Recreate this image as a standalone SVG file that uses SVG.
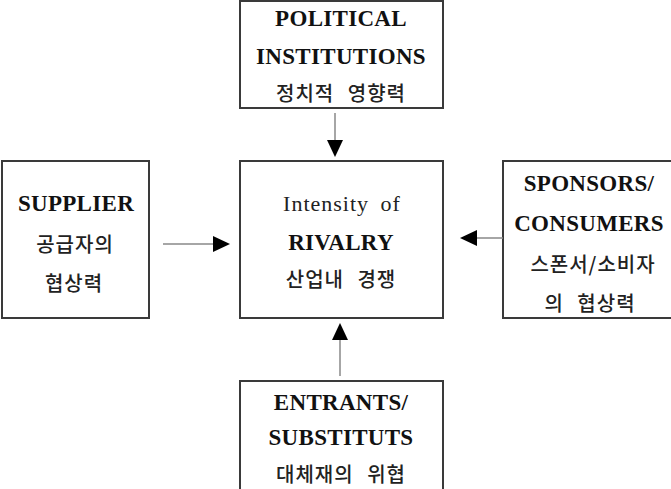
<svg xmlns="http://www.w3.org/2000/svg" width="671" height="489" viewBox="0 0 671 489">
<style>
.box{fill:#fff;stroke:#3a3a3a;stroke-width:2}
.t{font-family:"Liberation Serif","Noto Sans CJK KR",serif;font-size:23px;font-weight:bold;fill:#111;text-anchor:middle;dominant-baseline:central;letter-spacing:0.3px}
.r{font-family:"Liberation Serif",serif;font-size:22px;font-weight:normal;fill:#222;text-anchor:middle;dominant-baseline:central;letter-spacing:1px;word-spacing:5px}
.k{font-family:"Noto Sans CJK KR","Liberation Serif",sans-serif;font-size:20px;font-weight:500;fill:#222;text-anchor:middle;dominant-baseline:central;letter-spacing:1px;word-spacing:8px}
.line{stroke:#888;stroke-width:1.5;fill:none}
.head{fill:#000}
</style>
<rect width="671" height="489" fill="#fff"/>
<g id="political">
<rect class="box" x="240" y="1" width="203" height="107"/>
<text class="t" x="341" y="18">POLITICAL</text>
<text class="t" x="341" y="56">INSTITUTIONS</text>
<text class="k" x="341" y="92">정치적 영향력</text>
</g>
<g id="rivalry">
<rect class="box" x="240" y="161" width="203" height="157"/>
<text class="r" x="342" y="203">Intensity of</text>
<text class="t" x="341" y="242">RIVALRY</text>
<text class="k" x="341" y="278">산업내 경쟁</text>
</g>
<g id="supplier">
<rect class="box" x="2" y="161" width="147" height="157"/>
<text class="t" x="76" y="203">SUPPLIER</text>
<text class="k" x="75" y="243">공급자의</text>
<text class="k" x="74" y="282">협상력</text>
</g>
<g id="sponsors">
<rect class="box" x="503" y="161" width="172" height="157"/>
<text class="t" x="589" y="183">SPONSORS/</text>
<text class="t" x="589" y="223">CONSUMERS</text>
<text class="k" x="593" y="263">스폰서/소비자</text>
<text class="k" x="590" y="302">의 협상력</text>
</g>
<g id="entrants">
<rect class="box" x="240" y="381" width="203" height="115"/>
<text class="t" x="341" y="402">ENTRANTS/</text>
<text class="t" x="341" y="437">SUBSTITUTS</text>
<text class="k" x="341" y="473">대체재의 위협</text>
</g>
<g id="connectors">
<line class="line" x1="335" y1="113" x2="335" y2="141"/>
<polygon class="head" points="327,140 343,140 335,157"/>
<line class="line" x1="163" y1="244" x2="214" y2="244"/>
<polygon class="head" points="213,236 213,252 230,244"/>
<line class="line" x1="503" y1="238" x2="476" y2="238"/>
<polygon class="head" points="477,230 477,246 460,238"/>
<line class="line" x1="340" y1="376" x2="340" y2="340"/>
<polygon class="head" points="332,340 348,340 340,323"/>
</g>
</svg>
